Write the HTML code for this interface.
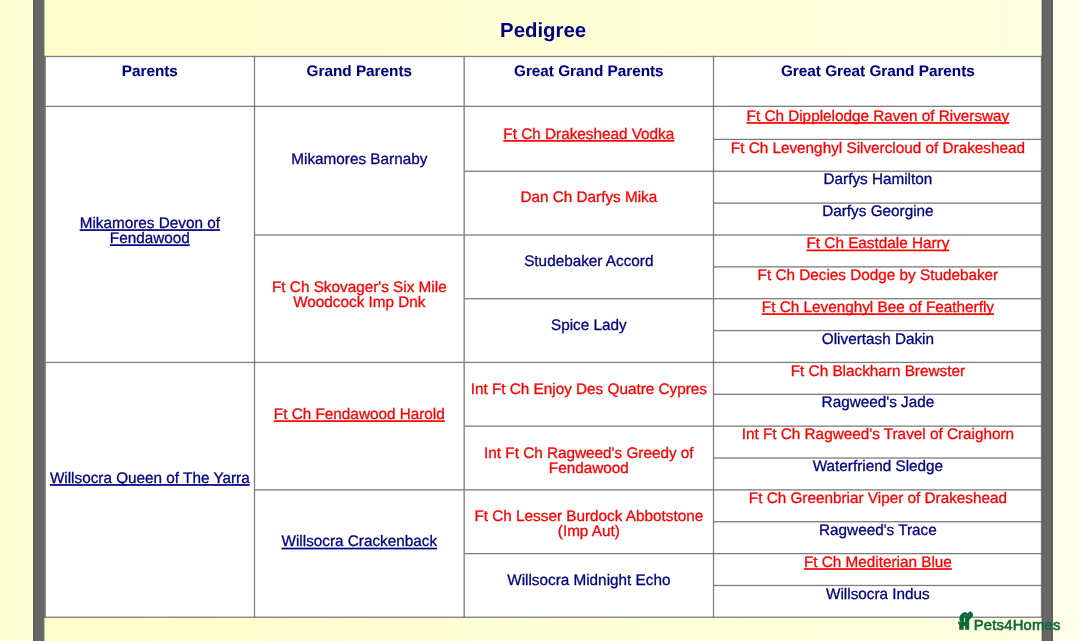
<!DOCTYPE html>
<html lang="en"><head><meta charset="utf-8"><title>Pedigree</title>
<style>
html,body{margin:0;padding:0}
body{width:1080px;height:641px;overflow:hidden;position:relative;background:linear-gradient(90deg,#ffffd4 0,#ffffd6 33px,#ffffea 1053px,#ffffec 1080px);font-family:"Liberation Sans",Arial,Helvetica,sans-serif;}
#panel{position:absolute;left:44px;top:0;width:998px;height:641px;background:linear-gradient(90deg,#fffdca,#ffffe1)}
#grid{position:absolute;left:0;top:0}
#txt{position:absolute;left:0;top:0;width:1080px;height:641px;will-change:transform;text-rendering:geometricPrecision}
.c{position:absolute;text-align:center;white-space:nowrap;font-size:15.3px;line-height:15.2px;margin:0;-webkit-text-stroke:0.3px}
.n{color:#000080}.r{color:#ff0000}
.c a{color:inherit;text-decoration:none}
.h{font-weight:bold;color:#000080;-webkit-text-stroke:.08px}
h1{position:absolute;margin:0;text-align:center;white-space:nowrap;color:#000080;font-weight:bold;font-size:20.4px;line-height:24px}
#wm{position:absolute;left:958px;top:610.9px;width:104px;height:20px;will-change:transform}
#wm span{position:absolute;left:15.7px;top:5.5px;font-size:14.8px;line-height:16px;font-weight:normal;color:#0d6a39;-webkit-text-stroke:.6px;letter-spacing:.23px;white-space:nowrap}
</style></head><body>
<div id="panel"></div>
<svg id="grid" width="1080" height="641" viewBox="0 0 1080 641"><rect x="33" y="0" width="11.4" height="641" fill="#676767"/><rect x="1041.8" y="0" width="11.1" height="641" fill="#676767"/><rect x="33" y="0" width="1.2" height="641" fill="#5d5d5d"/><rect x="1051.8" y="0" width="1.1" height="641" fill="#5d5d5d"/><rect x="44" y="56.46" width="997.60" height="560.79" fill="#fff"/><rect x="44.40" y="55.81" width="997.40" height="1.30" fill="#7d7d7d"/><rect x="44.40" y="105.71" width="997.40" height="1.30" fill="#7d7d7d"/><rect x="713.50" y="138.75" width="328.30" height="1.30" fill="#7d7d7d"/><rect x="464.15" y="170.61" width="577.65" height="1.30" fill="#7d7d7d"/><rect x="713.50" y="202.47" width="328.30" height="1.30" fill="#7d7d7d"/><rect x="254.50" y="234.34" width="787.30" height="1.30" fill="#7d7d7d"/><rect x="713.50" y="266.20" width="328.30" height="1.30" fill="#7d7d7d"/><rect x="464.15" y="298.06" width="577.65" height="1.30" fill="#7d7d7d"/><rect x="713.50" y="329.92" width="328.30" height="1.30" fill="#7d7d7d"/><rect x="45.10" y="361.78" width="996.70" height="1.30" fill="#7d7d7d"/><rect x="713.50" y="393.65" width="328.30" height="1.30" fill="#7d7d7d"/><rect x="464.15" y="425.51" width="577.65" height="1.30" fill="#7d7d7d"/><rect x="713.50" y="457.37" width="328.30" height="1.30" fill="#7d7d7d"/><rect x="254.50" y="489.23" width="787.30" height="1.30" fill="#7d7d7d"/><rect x="713.50" y="521.09" width="328.30" height="1.30" fill="#7d7d7d"/><rect x="464.15" y="552.96" width="577.65" height="1.30" fill="#7d7d7d"/><rect x="713.50" y="584.82" width="328.30" height="1.30" fill="#7d7d7d"/><rect x="44.40" y="616.60" width="997.40" height="1.30" fill="#7d7d7d"/><rect x="44" y="55.81" width="1" height="562.09" fill="#666"/><rect x="44.4" y="55.81" width="1.5" height="562.09" fill="#7d7d7d"/><rect x="253.85" y="55.81" width="1.30" height="562.09" fill="#7d7d7d"/><rect x="463.50" y="55.81" width="1.30" height="562.09" fill="#7d7d7d"/><rect x="712.85" y="55.81" width="1.30" height="562.09" fill="#7d7d7d"/><rect x="1040.85" y="55.81" width="1.15" height="562.09" fill="#7d7d7d"/><rect x="1041.8" y="0" width="1.1" height="641" fill="#5d5d5d"/><rect x="79.64" y="229.20" width="140.28" height="1.7" fill="#000080"/><rect x="109.81" y="244.30" width="79.95" height="1.7" fill="#000080"/><rect x="49.88" y="484.10" width="199.81" height="1.7" fill="#000080"/><rect x="273.86" y="420.25" width="170.91" height="1.7" fill="#ff0000"/><rect x="281.53" y="547.69" width="155.56" height="1.7" fill="#000080"/><rect x="503.34" y="140.02" width="170.92" height="1.7" fill="#ff0000"/><rect x="746.53" y="122.09" width="262.72" height="1.7" fill="#ff0000"/><rect x="806.48" y="249.54" width="142.83" height="1.7" fill="#ff0000"/><rect x="761.83" y="313.26" width="232.14" height="1.7" fill="#ff0000"/><rect x="803.92" y="568.16" width="147.94" height="1.7" fill="#ff0000"/></svg>
<div id="txt">
<h1 style="left:44.2px;width:997.9px;top:19.00px">Pedigree</h1>
<div class="c h" style="left:45.10px;width:209.40px;top:64.00px">Parents</div>
<div class="c h" style="left:254.50px;width:209.65px;top:64.00px">Grand Parents</div>
<div class="c h" style="left:464.15px;width:249.35px;top:64.00px">Great Grand Parents</div>
<div class="c h" style="left:713.50px;width:328.80px;top:64.00px">Great Great Grand Parents</div>
<div class="c n" style="left:45.10px;width:209.40px;top:216.00px"><a id="u22785">Mikamores Devon of<br>Fendawood</a></div>
<div class="c n" style="left:45.10px;width:209.40px;top:471.00px"><a id="u48275">Willsocra Queen of The Yarra</a></div>
<div class="c n" style="left:254.50px;width:209.65px;top:152.00px">Mikamores Barnaby</div>
<div class="c r" style="left:254.50px;width:209.65px;top:280.00px">Ft Ch Skovager's Six Mile<br>Woodcock Imp Dnk</div>
<div class="c r" style="left:254.50px;width:209.65px;top:407.00px"><a id="u41890">Ft Ch Fendawood Harold</a></div>
<div class="c n" style="left:254.50px;width:209.65px;top:534.00px"><a id="u54634">Willsocra Crackenback</a></div>
<div class="c r" style="left:464.15px;width:249.35px;top:127.00px"><a id="u13867">Ft Ch Drakeshead Vodka</a></div>
<div class="c r" style="left:464.15px;width:249.35px;top:190.00px">Dan Ch Darfys Mika</div>
<div class="c n" style="left:464.15px;width:249.35px;top:254.00px">Studebaker Accord</div>
<div class="c n" style="left:464.15px;width:249.35px;top:318.00px">Spice Lady</div>
<div class="c r" style="left:464.15px;width:249.35px;top:382.00px">Int Ft Ch Enjoy Des Quatre Cypres</div>
<div class="c r" style="left:464.15px;width:249.35px;top:446.00px">Int Ft Ch Ragweed's Greedy of<br>Fendawood</div>
<div class="c r" style="left:464.15px;width:249.35px;top:509.00px">Ft Ch Lesser Burdock Abbotstone<br>(Imp Aut)</div>
<div class="c n" style="left:464.15px;width:249.35px;top:573.00px">Willsocra Midnight Echo</div>
<div class="c r" style="left:713.50px;width:328.80px;top:109.00px"><a id="u12074">Ft Ch Dipplelodge Raven of Riversway</a></div>
<div class="c r" style="left:713.50px;width:328.80px;top:141.00px">Ft Ch Levenghyl Silvercloud of Drakeshead</div>
<div class="c n" style="left:713.50px;width:328.80px;top:172.00px">Darfys Hamilton</div>
<div class="c n" style="left:713.50px;width:328.80px;top:204.00px">Darfys Georgine</div>
<div class="c r" style="left:713.50px;width:328.80px;top:236.00px"><a id="u24819">Ft Ch Eastdale Harry</a></div>
<div class="c r" style="left:713.50px;width:328.80px;top:268.00px">Ft Ch Decies Dodge by Studebaker</div>
<div class="c r" style="left:713.50px;width:328.80px;top:300.00px"><a id="u31191">Ft Ch Levenghyl Bee of Featherfly</a></div>
<div class="c n" style="left:713.50px;width:328.80px;top:332.00px">Olivertash Dakin</div>
<div class="c r" style="left:713.50px;width:328.80px;top:364.00px">Ft Ch Blackharn Brewster</div>
<div class="c n" style="left:713.50px;width:328.80px;top:395.00px">Ragweed's Jade</div>
<div class="c r" style="left:713.50px;width:328.80px;top:427.00px">Int Ft Ch Ragweed's Travel of Craighorn</div>
<div class="c n" style="left:713.50px;width:328.80px;top:459.00px">Waterfriend Sledge</div>
<div class="c r" style="left:713.50px;width:328.80px;top:491.00px">Ft Ch Greenbriar Viper of Drakeshead</div>
<div class="c n" style="left:713.50px;width:328.80px;top:523.00px">Ragweed's Trace</div>
<div class="c r" style="left:713.50px;width:328.80px;top:555.00px"><a id="u56681">Ft Ch Mediterian Blue</a></div>
<div class="c n" style="left:713.50px;width:328.80px;top:587.00px">Willsocra Indus</div>
</div>
<div id="wm"><svg width="17" height="21" viewBox="957 610 17 21" style="position:absolute;left:-1px;top:-0.9px"><path fill="#0d6a39" fill-rule="evenodd" d="M970.36 611.1 L972.9 613.65 Q973.4 615.1 972.4 616.7 L970.7 618.5 L969.45 619.8 L969.15 620.9 L969.15 629.7 L965.15 629.7 L965.15 625.9 L963.75 625.9 L963.75 629.7 L959.2 629.7 L959.2 624.8 Q957.9 623.6 958.05 622.6 L958.25 621.45 L960.8 621.75 L959.45 620.4 L959.45 617.3 Q959.9 615.3 961.75 613.85 Q963.3 612.4 965.5 612.1 Q966.8 612.3 967.5 613.6 Z M964 617.7 L964.9 617.7 L964.9 621.9 L964 621.9 Z"/><circle cx="965.8" cy="615.05" r=".62" fill="#78b192"/></svg><span>Pets4Homes</span></div>
</body></html>
